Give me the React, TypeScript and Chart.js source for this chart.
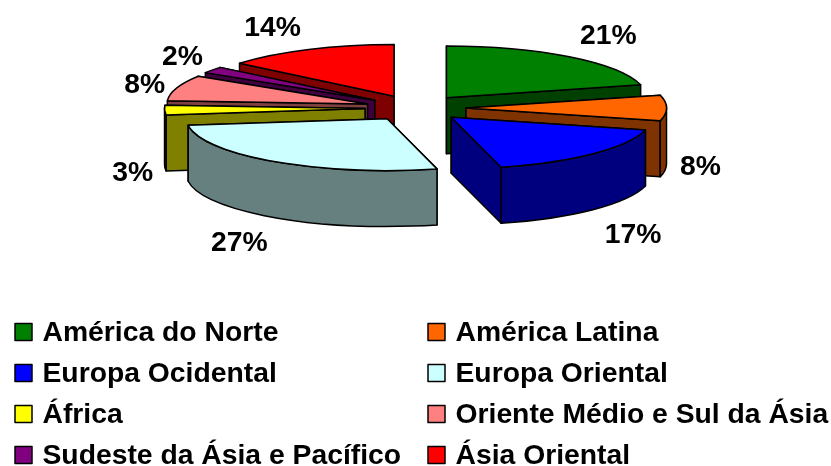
import React, { useEffect, useRef } from "react";
import { Chart, registerables } from "chart.js";

Chart.register(...registerables);

const regions = [
  "América do Norte",
  "América Latina",
  "Europa Ocidental",
  "Europa Oriental",
  "África",
  "Oriente Médio e Sul da Ásia",
  "Sudeste da Ásia e Pacífico",
  "Ásia Oriental",
];
const shares = [21, 8, 17, 27, 3, 8, 2, 14];
const sliceColors = ["#008000", "#ff6600", "#0000ff", "#ccffff", "#ffff00", "#ff8080", "#800080", "#ff0000"];

// View settings of the tilted pie
const CX = 415.5;
const CY = 108;
const RADIUS = 200.5;
const TILT = 0.258;
const DEPTH = 56;
const EXPLODE = 50.5;
const paintOrder = [0, 7, 6, 5, 4, 1, 3, 2];
const labelNudges: [number, number][] = [
  [39, -21], [34, 59], [40, 81], [-35, 82], [-32, 63], [-32, -3], [-30, -13], [-36, -21],
];
const FONT = 'bold 28.3px "Liberation Sans", Arial, sans-serif';

function halve(hex: string) {
  const n = parseInt(hex.slice(1), 16);
  const part = (s: number) => ((n >> s) & 255) >> 1;
  return `rgb(${part(16)},${part(8)},${part(0)})`;
}

const pie3d = {
  id: "pie3d",
  beforeDatasetsDraw(chart: any) {
    const ctx: CanvasRenderingContext2D = chart.ctx;
    const arcs = chart.getDatasetMeta(0).data;
    const colors: string[] = chart.data.datasets[0].backgroundColor;
    ctx.lineJoin = "round";
    ctx.lineWidth = 1.5;
    ctx.strokeStyle = "#000";
    for (const i of paintOrder) {
      const arc = arcs[i];
      const a0: number = arc.startAngle;
      const a1: number = arc.endAngle;
      const r: number = arc.outerRadius;
      const mid = (a0 + a1) / 2;
      const ox = CX + Math.cos(mid) * EXPLODE;
      const oy = CY + Math.sin(mid) * EXPLODE * TILT;
      const px = (a: number) => ox + r * Math.cos(a);
      const py = (a: number, z = 0) => oy + r * TILT * Math.sin(a) + z;
      const side = halve(colors[i]);
      const paint = (fill: string) => {
        ctx.closePath();
        ctx.fillStyle = fill;
        ctx.fill();
        ctx.stroke();
      };
      // radial faces, the farther one first
      const faces = [a0, a1].sort((p, q) => Math.sin(p) - Math.sin(q));
      for (const a of faces) {
        ctx.beginPath();
        ctx.moveTo(ox, oy);
        ctx.lineTo(px(a), py(a));
        ctx.lineTo(px(a), py(a, DEPTH));
        ctx.lineTo(ox, oy + DEPTH);
        paint(side);
      }
      // outer wall, the part that faces the viewer
      const lo = Math.max(a0, 0);
      const hi = Math.min(a1, Math.PI);
      if (lo < hi) {
        ctx.beginPath();
        ctx.ellipse(ox, oy, r, r * TILT, 0, lo, hi);
        ctx.ellipse(ox, oy + DEPTH, r, r * TILT, 0, hi, lo, true);
        paint(side);
      }
      // top face
      ctx.beginPath();
      ctx.moveTo(ox, oy);
      ctx.ellipse(ox, oy, r, r * TILT, 0, a0, a1);
      paint(colors[i]);
    }

    // percent labels
    ctx.font = FONT;
    ctx.fillStyle = "#000";
    ctx.textAlign = "center";
    ctx.textBaseline = "middle";
    chart.data.datasets[0].data.forEach((v: number, i: number) => {
      const arc = arcs[i];
      const mid = (arc.startAngle + arc.endAngle) / 2;
      const ex = CX + Math.cos(mid) * (arc.outerRadius + EXPLODE);
      const ey = CY + Math.sin(mid) * (arc.outerRadius + EXPLODE) * TILT;
      ctx.fillText(`${v}%`, ex + labelNudges[i][0], ey + labelNudges[i][1]);
    });

    // two-column legend, filled row by row
    const items = chart.options.plugins.legend.labels.generateLabels(chart);
    ctx.textAlign = "left";
    items.forEach((item: any, i: number) => {
      const col = i % 2;
      const row = Math.floor(i / 2);
      const x = col === 0 ? 15 : 428;
      const y = 332 + row * 41;
      ctx.fillStyle = item.fillStyle;
      ctx.fillRect(x, y - 8.5, 17, 17);
      ctx.lineWidth = 1.5;
      ctx.strokeStyle = "#000";
      ctx.strokeRect(x, y - 8.5, 17, 17);
      ctx.fillStyle = "#000";
      ctx.fillText(item.text, x + 27.5, y + 1);
    });
    return false;
  },
};

export default function App() {
  const ref = useRef<HTMLCanvasElement>(null);
  useEffect(() => {
    const chart = new Chart(ref.current!, {
      type: "pie",
      data: {
        labels: regions,
        datasets: [{ data: shares, backgroundColor: sliceColors, borderWidth: 0 }],
      },
      options: {
        animation: false,
        responsive: false,
        radius: RADIUS,
        layout: { padding: 0 },
        plugins: {
          legend: { display: false },
          tooltip: { enabled: false },
        },
      } as any,
      plugins: [pie3d],
    });
    return () => chart.destroy();
  }, []);
  return (
    <div style={{ position: "fixed", left: 0, top: 0, width: 831, height: 466, background: "#fff" }}>
      <canvas ref={ref} width={831} height={466} style={{ display: "block" }} />
    </div>
  );
}
